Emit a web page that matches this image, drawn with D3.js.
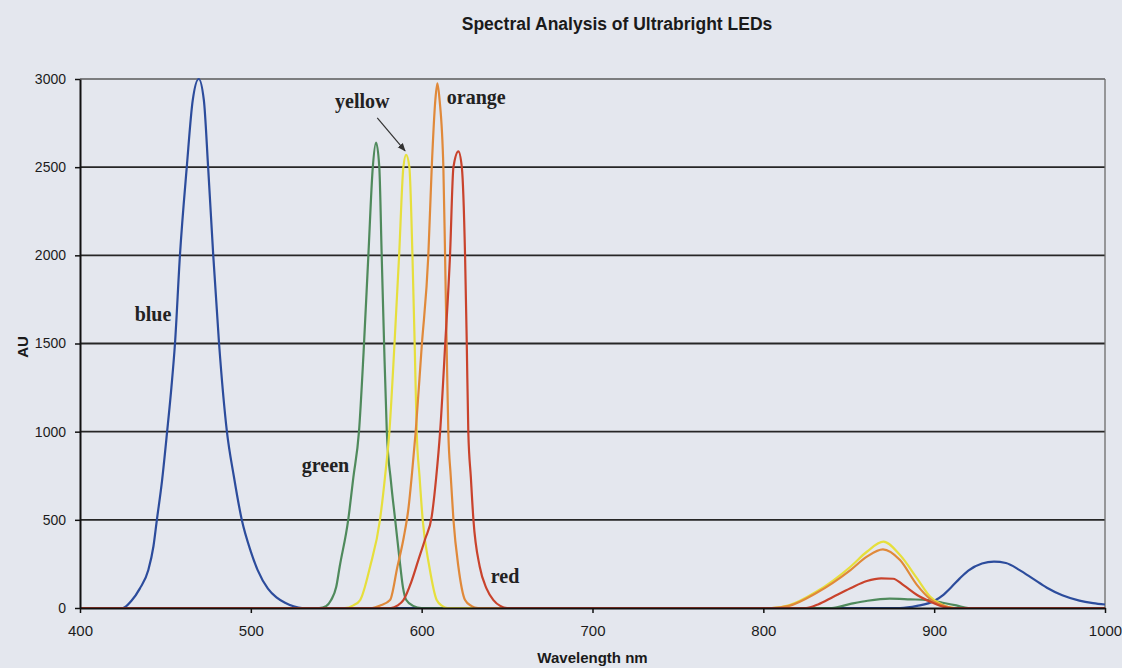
<!DOCTYPE html>
<html>
<head>
<meta charset="utf-8">
<script src="https://cdn.jsdelivr.net/npm/d3@7"></script>
<style>
  body { margin: 0; background: #e4e7ee; }
  svg { display: block; }
  .tick text { font-family: "Liberation Sans", Arial, sans-serif; fill: #1c1c1c; }
  .lbl { font-family: "Liberation Serif", "Times New Roman", serif; font-weight: bold; font-size: 20px; fill: #222; }
</style>
</head>
<body>
<svg id="chart" width="1122" height="668"></svg>
<script>
// wavelength (nm), intensity (AU)
var blue = [[400,0],[425,0],[430,40],[435,110],[440,215],[443,350],[445,500],[448,720],[451,1000],[453.5,1250],[455.6,1500],[458.5,2000],[462.5,2500],[466,2880],[469.5,3000],[472.5,2880],[475,2500],[478,2000],[481.4,1500],[486,1000],[490,750],[494.7,500],[500,320],[504,215],[510,110],[515,60],[520,30],[525,10],[530,0],
  [880,0],[890,12],[900,40],[905,72],[910,118],[915,168],[920,212],[928,252],[935,263],[942,255],[950,215],[958,165],[966,115],[975,72],[985,42],[993,28],[1000,20]];
var green = [[400,0],[540,0],[544,10],[547,45],[550,120],[552,234],[557,500],[560,740],[563.3,1000],[566,1450],[568.8,2000],[571.4,2500],[573.3,2640],[575.2,2500],[576.6,2000],[578,1500],[579.6,1000],[582,720],[584.5,500],[587,280],[589,120],[591,45],[595,12],[600,0],
  [840,0],[851,23],[861,41],[874,53],[886,49],[896,45],[905,30],[913,15],[920,0],[1000,0]];
var yellow = [[400,0],[555,0],[560,15],[564,45],[569.8,234],[575.6,500],[578.5,740],[581.1,1000],[584,1480],[586.8,2000],[589.3,2500],[590.9,2570],[592.8,2500],[594.6,2000],[595.9,1500],[597.1,1000],[598.8,740],[600.6,500],[604.5,234],[608.8,45],[612,12],[615,0],
  [805,0],[815,15],[831,92],[851,234],[860.6,319],[870.3,376],[880,300],[890,168],[897.7,64],[905,17],[912,0],[1000,0]];
var orange = [[400,0],[571,0],[576,15],[581.5,45],[585.8,234],[589.5,400],[592.2,560],[594.5,780],[596.5,1000],[600,1480],[603.9,2000],[605.9,2500],[608,2880],[609.2,2975],[610.5,2880],[612.7,2500],[613.7,2000],[614.6,1500],[615.6,1000],[617,750],[618.6,500],[621.5,234],[625.4,45],[629,12],[633,0],
  [805,0],[815,12],[831,85],[851,215],[860.6,291],[870,333],[880,272],[890,130],[897.7,51],[905,15],[912,0],[1000,0]];
var red = [[400,0],[582,0],[586,15],[589.3,45],[594,150],[598,270],[602,390],[605.9,520],[608.5,740],[610.8,1000],[613.8,1500],[616.6,2000],[618.6,2500],[621.5,2590],[623.5,2500],[625.4,2000],[626.4,1500],[627.3,1000],[628.8,740],[630.3,500],[634,234],[638,110],[642,45],[646,12],[650,0],
  [825,0],[832,20],[841,64],[851,112],[860.6,153],[869,168],[876,166],[882,130],[890,74],[897.7,36],[905,8],[910,0],[1000,0]];

var seriesNames = ["blue", "green", "yellow", "orange", "red"];
var seriesData = [blue, green, yellow, orange, red];
var seriesColors = ["#2c4c9c", "#4f8a5c", "#e6df3c", "#e0893a", "#c9432c"];

var xTicks = [400, 500, 600, 700, 800, 900, 1000];
var yTicks = [0, 500, 1000, 1500, 2000, 2500, 3000];

// curve labels: [wavelength, AU] of the text start
var labelPos = [[432, 1630], [529.8, 771], [549.3, 2836], [614.7, 2858], [640.5, 142]];
// arrow from the "yellow" label to its peak
var arrow = [[574, 2780], [590.3, 2592]];

var svg = d3.select("#chart");

var x = d3.scaleLinear().domain([400, 1000]).range([80, 1105]);
var y = d3.scaleLinear().domain([0, 3000]).range([608, 79]);

//Title
svg.append("text")
  .attr("x", 617)
  .attr("y", 30)
  .attr("text-anchor", "middle")
  .style("font-family", "'Liberation Sans', Arial, sans-serif")
  .style("font-weight", "bold")
  .style("font-size", "17.5px")
  .style("fill", "#1a1a1a")
  .text("Spectral Analysis of Ultrabright LEDs");

//Gridlines
svg.append("g")
  .selectAll("line")
  .data(yTicks.filter(function(d) { return d > 0; }))
  .enter()
  .append("line")
  .attr("x1", x(400))
  .attr("x2", x(1000))
  .attr("y1", function(d) { return y(d); })
  .attr("y2", function(d) { return y(d); })
  .style("stroke", function(d) { return d == 3000 ? "#5a5a5a" : "#262626"; })
  .style("stroke-width", function(d) { return d == 3000 ? 1.3 : 1.8; });

//Right border
svg.append("line")
  .attr("x1", x(1000)).attr("x2", x(1000))
  .attr("y1", y(3000)).attr("y2", y(0))
  .style("stroke", "#6a6a6a")
  .style("stroke-width", 1.3);

//Curves
var line = d3.line()
  .x(function(d) { return x(d[0]); })
  .y(function(d) { return y(d[1]); })
  .curve(d3.curveMonotoneX);

svg.append("g")
  .selectAll("path")
  .data(seriesData)
  .enter()
  .append("path")
  .attr("d", line)
  .style("fill", "none")
  .style("stroke", function(d, i) { return seriesColors[i]; })
  .style("stroke-width", 2.2)
  .style("stroke-linejoin", "round");

//Axes
var fmt = d3.format("d");

var yAxis = svg.append("g")
  .attr("transform", "translate(" + x(400) + ",0)")
  .call(d3.axisLeft(y).tickValues(yTicks).tickFormat(fmt).tickSize(5).tickPadding(9).tickSizeOuter(0));
yAxis.selectAll("text").style("font-size", "14px");

var xAxis = svg.append("g")
  .attr("transform", "translate(0," + y(0) + ")")
  .call(d3.axisBottom(x).tickValues(xTicks).tickFormat(fmt).tickSize(5).tickPadding(12).tickSizeOuter(0));
xAxis.selectAll("text").style("font-size", "15px");

svg.selectAll(".domain").style("stroke", "#111").style("stroke-width", 2);
svg.selectAll(".tick line").style("stroke", "#111").style("stroke-width", 1.5);

//Axis titles
svg.append("text")
  .attr("x", (x(400) + x(1000)) / 2)
  .attr("y", 663)
  .attr("text-anchor", "middle")
  .style("font-family", "'Liberation Sans', Arial, sans-serif")
  .style("font-weight", "bold")
  .style("font-size", "15px")
  .style("fill", "#1a1a1a")
  .text("Wavelength nm");

svg.append("text")
  .attr("transform", "translate(28,347) rotate(-90)")
  .attr("text-anchor", "middle")
  .style("font-family", "'Liberation Sans', Arial, sans-serif")
  .style("font-weight", "bold")
  .style("font-size", "15px")
  .style("fill", "#1a1a1a")
  .text("AU");

//Curve labels
svg.append("g")
  .selectAll("text")
  .data(seriesNames)
  .enter()
  .append("text")
  .attr("class", "lbl")
  .attr("x", function(d, i) { return x(labelPos[i][0]); })
  .attr("y", function(d, i) { return y(labelPos[i][1]); })
  .text(function(d) { return d; });

//Arrow
svg.append("defs")
  .append("marker")
  .attr("id", "head")
  .attr("viewBox", "0 0 10 10")
  .attr("refX", 9)
  .attr("refY", 5)
  .attr("markerWidth", 7)
  .attr("markerHeight", 7)
  .attr("orient", "auto")
  .append("path")
  .attr("d", "M0,1 L10,5 L0,9 Z")
  .style("fill", "#333");

svg.append("line")
  .attr("x1", x(arrow[0][0]))
  .attr("y1", y(arrow[0][1]))
  .attr("x2", x(arrow[1][0]))
  .attr("y2", y(arrow[1][1]))
  .style("stroke", "#333")
  .style("stroke-width", 1.2)
  .attr("marker-end", "url(#head)");
</script>
</body>
</html>
